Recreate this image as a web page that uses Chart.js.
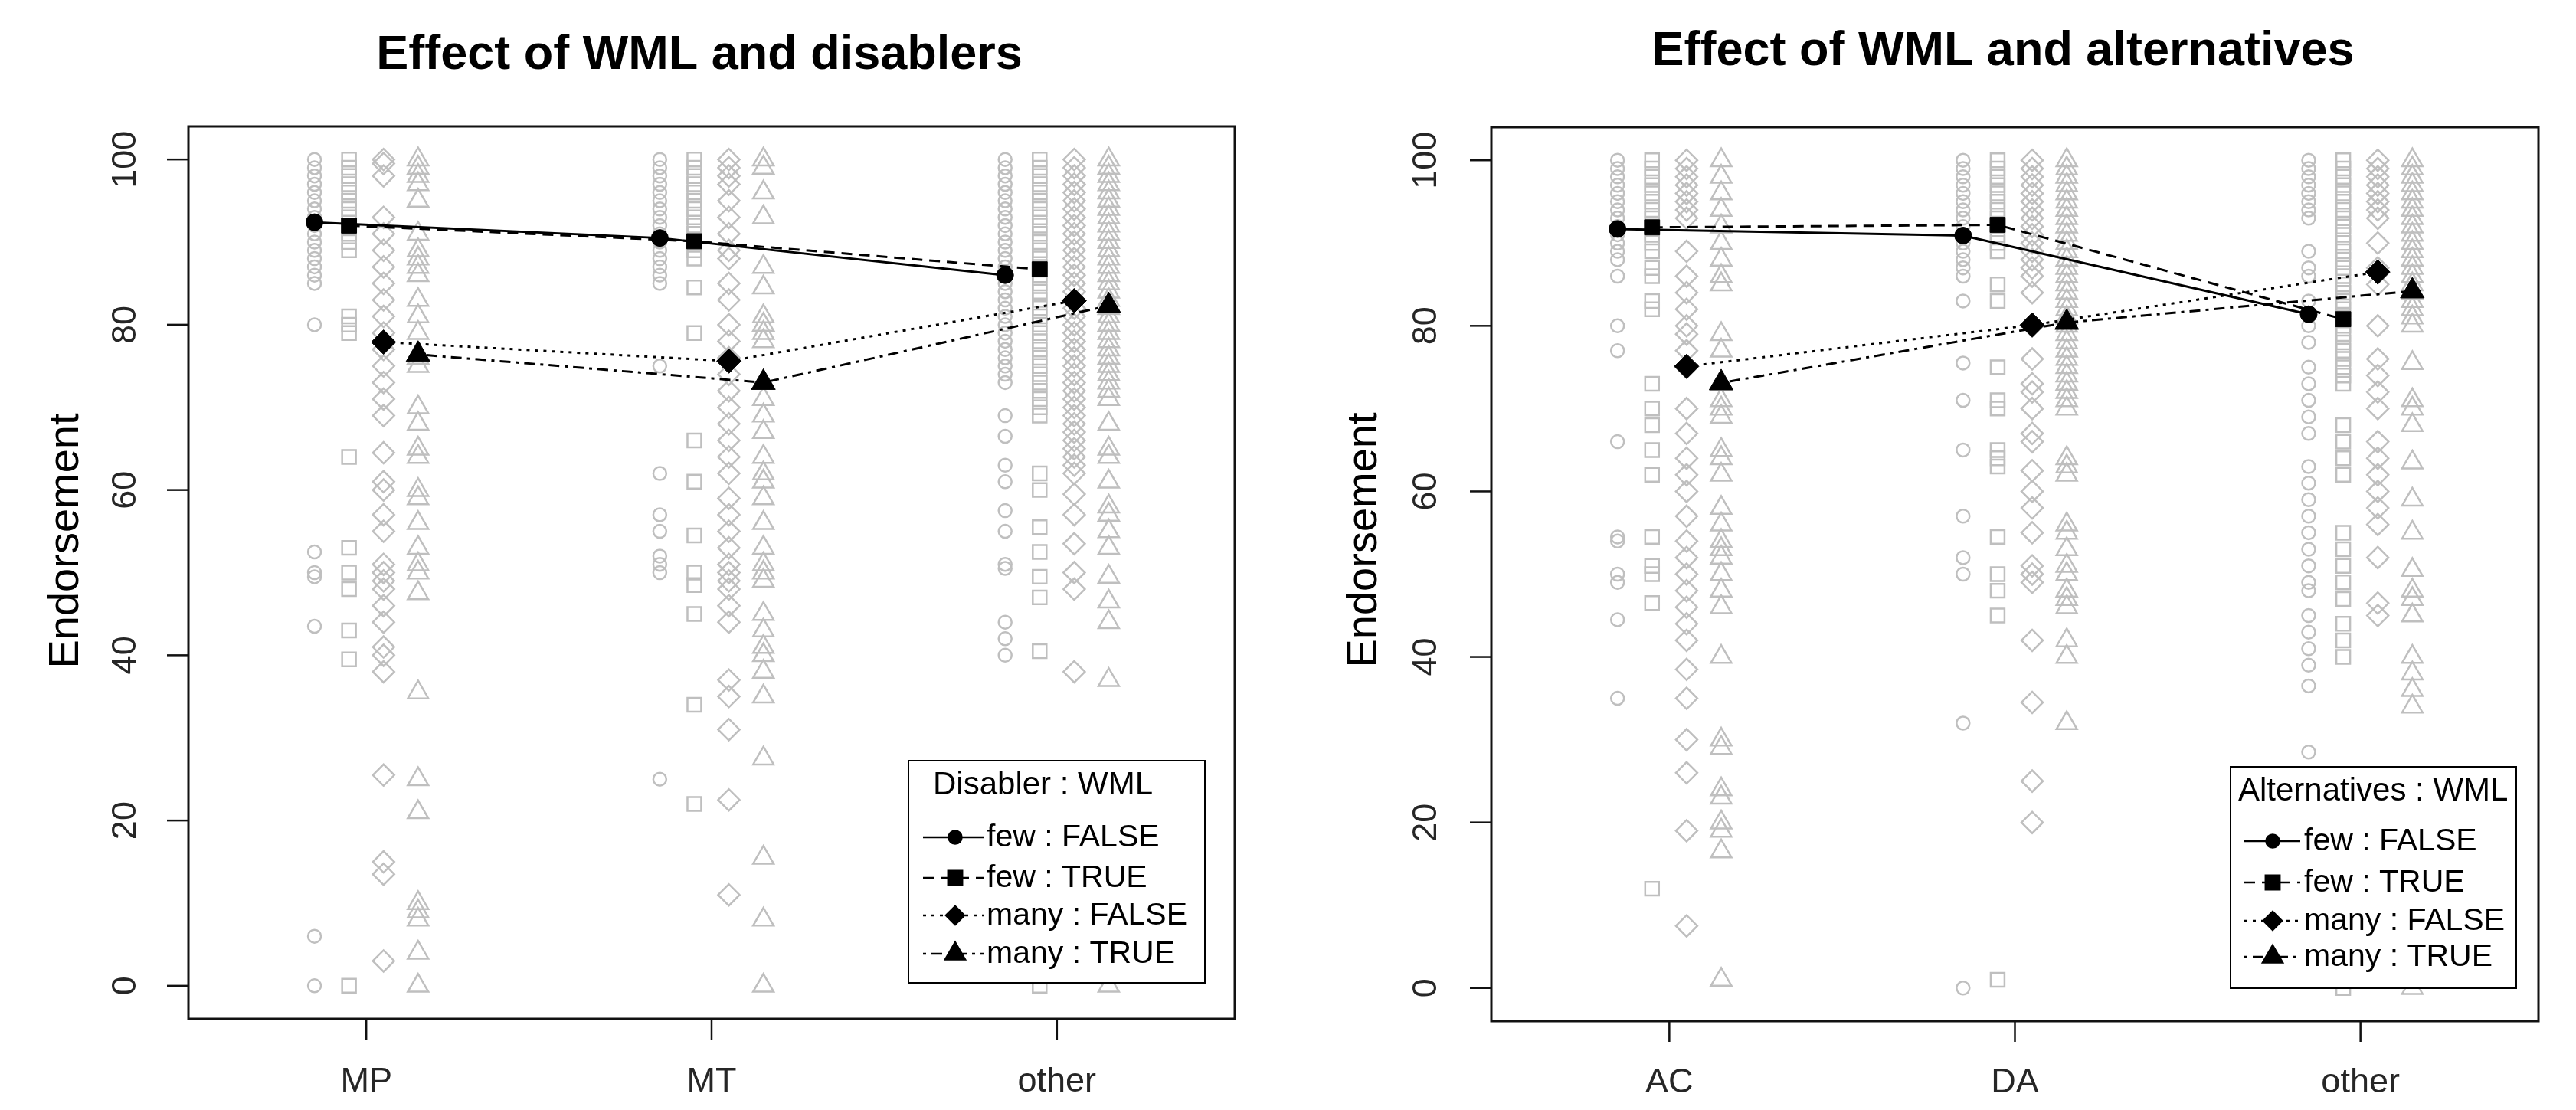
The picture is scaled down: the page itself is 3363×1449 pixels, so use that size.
<!DOCTYPE html>
<html>
<head>
<meta charset="utf-8">
<script src="https://cdn.jsdelivr.net/npm/chart.js@4.4.1/dist/chart.umd.min.js"></script>
<style>
  html, body { margin: 0; padding: 0; background: #fff; }
  canvas { position: absolute; top: 0; }
  #disablerChart { left: 0; }
  #altChart { left: 1680px; }
</style>
</head>
<body>
<canvas id="disablerChart" width="1680" height="1449"></canvas>
<canvas id="altChart" width="1683" height="1449"></canvas>
<script>
// categories and labels
const disablerCats = ['MP', 'MT', 'other'];
const altCats = ['AC', 'DA', 'other'];
const groupLabels = ['few : FALSE', 'few : TRUE', 'many : FALSE', 'many : TRUE'];
const yTickValues = [0, 20, 40, 60, 80, 100];

// group means (one value per category)
const disFewFalse = [92.4, 90.5, 86.0];
const disFewTrue = [92.0, 90.1, 86.7];
const disManyFalse = [77.9, 75.6, 82.9];
const disManyTrue = [76.4, 73.0, 82.3];
const altFewFalse = [91.7, 90.9, 81.4];
const altFewTrue = [91.9, 92.2, 80.8];
const altManyFalse = [75.1, 80.1, 86.5];
const altManyTrue = [73.1, 80.4, 84.2];

// raw endorsement ratings, disablers panel
const mpFewF = [100, 99, 98, 97, 96, 95, 94, 93, 92, 91, 90, 89, 88, 87, 86, 85, 80, 52.5, 50, 49.5, 43.5, 6, 0];
const mpFewT = [100, 99, 98, 97, 96, 95, 94, 93, 92, 91, 90, 89, 81, 80, 79, 64, 53, 50, 48, 43, 39.5, 0];
const mpManyF = [100, 99.5, 98, 93, 91, 89, 87, 85, 83, 81, 79, 77, 75, 73, 71, 69, 64.5, 61, 60, 57, 55, 51, 50, 49, 48, 46, 44, 41, 40, 38, 25.5, 15, 13.5, 3];
const mpManyT = [100, 99, 98, 97, 95, 91, 89, 88, 87, 86, 83, 81, 79, 76, 75, 70, 68, 65, 64, 60, 59, 56, 53, 51, 50, 47.5, 35.5, 25, 21, 10, 9, 8, 4, 0];
const mtFewF = [100, 99, 98, 97, 96, 95, 94, 93, 92, 91, 90, 89, 88, 87, 86, 85, 75, 62, 57, 55, 52, 51, 50, 25];
const mtFewT = [100, 99, 98, 97, 96, 95, 94, 93, 92, 91, 90, 89, 88, 84.5, 79, 66, 61, 54.5, 50, 48.5, 45, 34, 22];
const mtManyF = [100, 99, 98, 97, 95, 93, 91, 89, 88, 85, 83, 80, 78, 76, 74, 72, 70, 68, 66, 64, 62, 59, 57, 55, 53, 51, 50, 49, 48, 46, 44, 37, 35, 31, 22.5, 11];
const mtManyT = [100, 99, 96, 93, 87, 84.5, 81, 80, 79, 78, 73, 71, 69, 67, 64, 62, 61, 59, 56, 53, 51, 50, 49, 45, 43, 41, 40, 38, 35, 27.5, 15.5, 8, 0];
const dOtherFewF = [100, 99, 98, 97, 96, 95, 94, 93, 92, 91, 90, 89, 88, 87, 86, 85, 84, 83, 82, 81, 80, 79, 78, 77, 76, 75, 74, 73, 69, 66.5, 63, 61, 57.5, 55, 51, 50.5, 44, 42, 40];
const dOtherFewT = [100, 99, 98, 97, 96, 95, 94, 93, 92, 91, 90, 89, 88, 87, 86, 85, 84, 83, 82, 81, 80, 79, 78, 77, 76, 75, 74, 73, 72, 71, 70, 69, 62, 60, 55.5, 52.5, 49.5, 47, 40.5, 0];
const dOtherManyF = [100, 99, 98, 97, 96, 95, 94, 93, 92, 91, 90, 89, 88, 87, 86, 85, 84, 83, 82, 81, 80, 79, 78, 77, 76, 75, 74, 73, 72, 71, 70, 69, 68, 67, 66, 65, 64, 63, 62, 59.5, 57, 53.5, 50, 48, 38];
const dOtherManyT = [100, 99, 98, 97, 96, 95, 94, 93, 92, 91, 90, 89, 88, 87, 86, 85, 84, 83, 82, 81, 80, 79, 78, 77, 76, 75, 74, 73, 72, 71, 68, 65, 64, 61, 58, 57, 55, 53, 49.5, 46.5, 44, 37, 0];

// raw endorsement ratings, alternatives panel
const acFewF = [100, 99, 98, 97, 96, 95, 94, 93, 92, 91, 90, 89, 88, 86, 80, 77, 66, 54.5, 54, 50, 49, 44.5, 35];
const acFewT = [100, 99, 98, 97, 96, 95, 94, 93, 92, 91, 90, 89, 87, 86, 83, 82, 73, 70, 68, 65, 62, 54.5, 51, 50, 46.5, 12];
const acManyF = [100, 99, 98, 97, 96, 95, 94, 93, 89, 86, 84, 82, 80, 79, 77, 75, 70, 67, 64, 62, 60, 57, 54, 52, 50, 48, 46, 44, 42, 38.5, 35, 30, 26, 19, 7.5];
const acManyT = [100, 98, 96, 94, 92, 90, 88, 86, 85, 79, 77, 73, 71, 70, 69, 65, 64, 62, 58, 56, 54, 53, 52, 50, 48, 46, 40, 30, 29, 24, 23, 20, 19, 16.5, 1];
const daFewF = [100, 99, 98, 97, 96, 95, 94, 93, 92, 91, 90, 89, 88, 87, 86, 83, 75.5, 71, 65, 57, 52, 50, 32, 0];
const daFewT = [100, 99, 98, 97, 96, 95, 94, 93, 92, 91, 90, 89, 85, 83, 75, 71, 70, 65, 64, 63, 54.5, 50, 48, 45, 1];
const daManyF = [100, 99, 98, 97, 96, 95, 94, 93, 92, 91, 90, 89, 88, 87, 86, 84, 80, 76, 73, 72, 70, 67, 66, 62.5, 60, 58, 55, 51, 50, 49, 42, 34.5, 25, 20];
const daManyT = [100, 99, 98, 97, 96, 95, 94, 93, 92, 91, 90, 89, 88, 87, 86, 85, 84, 83, 82, 81, 80, 79, 78, 77, 76, 75, 74, 73, 72, 71, 70, 64, 63, 62, 56, 55, 53, 51, 50, 48, 47, 46, 42, 40, 32];
const aOtherFewF = [100, 99, 98, 97, 96, 95, 94, 93, 89, 87, 86, 83, 80, 78, 75, 73, 71, 69, 67, 63, 61, 59, 57, 55, 53, 51, 49, 48, 45, 43, 41, 39, 36.5, 28.5];
const aOtherFewT = [100, 99, 98, 97, 96, 95, 94, 93, 92, 91, 90, 89, 88, 87, 86, 85, 84, 83, 82, 81, 80, 79, 78, 77, 76, 75, 74, 73, 68, 66, 64, 62, 55, 53, 51, 49, 47, 44, 42, 40, 0];
const aOtherManyF = [100, 99, 98, 97, 96, 95, 94, 93, 90, 87, 85, 80, 76, 74, 72, 70, 66, 64, 62, 60, 58, 56, 52, 46.5, 45];
const aOtherManyT = [100, 99, 98, 97, 96, 95, 94, 93, 92, 91, 90, 89, 88, 87, 86, 85, 84, 83, 82, 81, 80, 75.5, 71, 70, 68, 63.5, 59, 55, 50.5, 48, 47, 45, 40, 38, 36, 34, 0];

// drawing styles
const FONT = '"Liberation Sans", Arial, Helvetica, sans-serif';
const GRAY = '#bfbfbf';
const groupOffsets = [-0.15, -0.05, 0.05, 0.15];
const rawStyles = [
  { pointStyle: 'circle', radius: 8.5 },
  { pointStyle: 'rect', radius: 12.7 },
  { pointStyle: 'rectRot', radius: 14 },
  { pointStyle: 'triangle', radius: 15.5 }
];
const meanStyles = [
  { pointStyle: 'circle', radius: 11, dash: [] },
  { pointStyle: 'rect', radius: 14, dash: [14, 9] },
  { pointStyle: 'rectRot', radius: 16, dash: [4, 7] },
  { pointStyle: 'triangle', radius: 18, dash: [4, 7, 14, 7] }
];
const legendMarks = [8.5, 13, 12, 15];

function framePlugin(cfg) {
  return {
    id: 'rFrame',
    afterDatasetsDraw(chart) {
      const { ctx, chartArea: a, scales: { x, y } } = chart;
      ctx.save();

      // legend box (white background covers the points behind it)
      const lg = cfg.legend;
      ctx.fillStyle = '#fff';
      ctx.fillRect(lg.left, lg.top, lg.width, lg.height);
      ctx.strokeStyle = '#000';
      ctx.lineWidth = 2;
      ctx.setLineDash([]);
      ctx.strokeRect(lg.left, lg.top, lg.width, lg.height);
      ctx.fillStyle = '#000';
      ctx.font = '42px ' + FONT;
      ctx.textAlign = 'left';
      ctx.textBaseline = 'middle';
      ctx.fillText(cfg.legendTitle, lg.left + lg.titleX, lg.top + 32);
      ctx.font = '41px ' + FONT;
      groupLabels.forEach((label, g) => {
        const ry = lg.top + lg.rows[g];
        ctx.lineWidth = 2.5;
        ctx.strokeStyle = '#000';
        ctx.setLineDash(meanStyles[g].dash);
        ctx.beginPath();
        ctx.moveTo(lg.left + lg.lineFrom, ry);
        ctx.lineTo(lg.left + lg.lineTo, ry);
        ctx.stroke();
        ctx.setLineDash([]);
        ctx.fillStyle = '#000';
        Chart.helpers.drawPoint(ctx, {
          pointStyle: meanStyles[g].pointStyle, radius: legendMarks[g], rotation: 0, borderWidth: 1
        }, lg.left + lg.mark, ry);
        ctx.fillText(label, lg.left + lg.textX, ry + 1);
      });

      // plot frame
      ctx.strokeStyle = '#111';
      ctx.lineWidth = 3;
      ctx.strokeRect(a.left, a.top, a.right - a.left, a.bottom - a.top);

      // y axis ticks and rotated labels
      ctx.lineWidth = 2.5;
      ctx.fillStyle = '#262626';
      ctx.font = '45px ' + FONT;
      yTickValues.forEach(v => {
        const py = y.getPixelForValue(v);
        ctx.beginPath();
        ctx.moveTo(a.left - 28, py);
        ctx.lineTo(a.left, py);
        ctx.stroke();
        ctx.save();
        ctx.translate(cfg.yLabelX, py);
        ctx.rotate(-Math.PI / 2);
        ctx.textAlign = 'center';
        ctx.textBaseline = 'middle';
        ctx.fillText(String(v), 0, 0);
        ctx.restore();
      });

      // x axis ticks and labels
      cfg.cats.forEach((c, i) => {
        const px = x.getPixelForValue(i + 1);
        ctx.beginPath();
        ctx.moveTo(px, a.bottom);
        ctx.lineTo(px, a.bottom + 27);
        ctx.stroke();
        ctx.textAlign = 'center';
        ctx.textBaseline = 'middle';
        ctx.fillText(c, px, cfg.xLabelY);
      });

      // axis title
      ctx.fillStyle = '#000';
      ctx.font = '56px ' + FONT;
      ctx.save();
      ctx.translate(cfg.yTitleX, cfg.yTitleY);
      ctx.rotate(-Math.PI / 2);
      ctx.textAlign = 'center';
      ctx.textBaseline = 'middle';
      ctx.fillText('Endorsement', 0, 0);
      ctx.restore();

      // main title
      ctx.font = 'bold 63px ' + FONT;
      ctx.textAlign = 'center';
      ctx.textBaseline = 'alphabetic';
      ctx.fillText(cfg.title, cfg.titleX, cfg.titleY);

      ctx.restore();
    }
  };
}

function buildChart(canvasId, cfg) {
  const datasets = [];
  cfg.raw.forEach((byCat, g) => {
    const pts = [];
    byCat.forEach((vals, ci) => vals.forEach(v => pts.push({ x: ci + 1 + groupOffsets[g], y: v })));
    datasets.push({
      data: pts,
      showLine: false,
      order: 2,
      pointStyle: rawStyles[g].pointStyle,
      pointRadius: rawStyles[g].radius,
      pointHoverRadius: rawStyles[g].radius,
      pointBorderWidth: 2.5,
      pointBorderColor: GRAY,
      pointBackgroundColor: 'rgba(0,0,0,0)'
    });
  });
  cfg.means.forEach((vals, g) => {
    datasets.push({
      data: vals.map((v, ci) => ({ x: ci + 1 + groupOffsets[g], y: v })),
      showLine: true,
      order: 1,
      borderColor: '#000',
      borderWidth: 3,
      borderDash: meanStyles[g].dash,
      pointStyle: meanStyles[g].pointStyle,
      pointRadius: meanStyles[g].radius,
      pointHoverRadius: meanStyles[g].radius,
      pointBorderWidth: 1,
      pointBorderColor: '#000',
      pointBackgroundColor: '#000'
    });
  });

  return new Chart(document.getElementById(canvasId).getContext('2d'), {
    type: 'scatter',
    data: { datasets },
    options: {
      responsive: false,
      animation: false,
      events: [],
      layout: { padding: cfg.padding },
      plugins: {
        legend: { display: false },
        title: { display: false },
        tooltip: { enabled: false }
      },
      scales: {
        x: { type: 'linear', min: 0.485, max: 3.515, display: false },
        y: { type: 'linear', min: -4, max: 104, display: false }
      }
    },
    plugins: [framePlugin(cfg)]
  });
}

buildChart('disablerChart', {
  title: 'Effect of WML and disablers',
  legendTitle: 'Disabler : WML',
  cats: disablerCats,
  raw: [
    [mpFewF, mtFewF, dOtherFewF],
    [mpFewT, mtFewT, dOtherFewT],
    [mpManyF, mtManyF, dOtherManyF],
    [mpManyT, mtManyT, dOtherManyT]
  ],
  means: [disFewFalse, disFewTrue, disManyFalse, disManyTrue],
  padding: { left: 246, top: 165, right: 68, bottom: 119 },
  titleX: 913, titleY: 90,
  yTitleX: 87, yTitleY: 706,
  yLabelX: 165, xLabelY: 1413,
  legend: { left: 1186, top: 993, width: 387, height: 290, titleX: 32,
            rows: [100, 153, 202, 252], lineFrom: 19, lineTo: 99, mark: 61, textX: 102 }
});

buildChart('altChart', {
  title: 'Effect of WML and alternatives',
  legendTitle: 'Alternatives : WML',
  cats: altCats,
  raw: [
    [acFewF, daFewF, aOtherFewF],
    [acFewT, daFewT, aOtherFewT],
    [acManyF, daManyF, aOtherManyF],
    [acManyT, daManyT, aOtherManyT]
  ],
  means: [altFewFalse, altFewTrue, altManyFalse, altManyTrue],
  padding: { left: 267, top: 166, right: 49, bottom: 116 },
  titleX: 935, titleY: 85,
  yTitleX: 102, yTitleY: 705,
  yLabelX: 183, xLabelY: 1414,
  legend: { left: 1232, top: 1001, width: 373, height: 289, titleX: 10,
            rows: [97, 151, 201, 248], lineFrom: 18, lineTo: 91, mark: 55, textX: 96 }
});
</script>
</body>
</html>
